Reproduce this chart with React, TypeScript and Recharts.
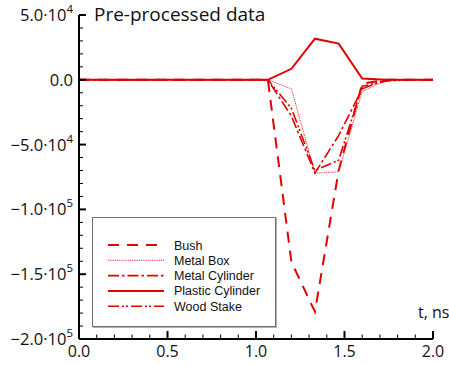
import React from 'react';
import { LineChart, Line, XAxis, YAxis } from 'recharts';

const times = [0, 0.133, 0.267, 0.4, 0.533, 0.667, 0.8, 0.933, 1.067, 1.2, 1.333, 1.467, 1.6, 1.733, 1.867, 2.0];
const bush = [0, 0, 0, 0, 0, 0, 0, 0, 0, -140500, -179000, -70000, -3000, 0, 0, 0];
const metalBox = [0, 0, 0, 0, 0, 0, 0, 0, 0, -7000, -72000, -71000, -9000, -500, 0, 0];
const metalCylinder = [0, 0, 0, 0, 0, 0, 0, 0, 0, -28000, -72000, -43000, -7000, 0, 0, 0];
const plasticCylinder = [0, 0, 0, 0, 0, 0, 0, 0, 0, 8500, 31700, 27900, 1000, 0, 0, 0];
const woodStake = [0, 0, 0, 0, 0, 0, 0, 0, 0, -22000, -70000, -62000, -5000, -1000, 0, 0];

const seriesNames = ['Bush', 'Metal Box', 'Metal Cylinder', 'Plastic Cylinder', 'Wood Stake'];
const seriesKeys = ['bush', 'metalBox', 'metalCylinder', 'plasticCylinder', 'woodStake'];

const xTicks = [0, 0.1, 0.2, 0.3, 0.4, 0.5, 0.6, 0.7, 0.8, 0.9, 1.0, 1.1, 1.2, 1.3, 1.4, 1.5, 1.6, 1.7, 1.8, 1.9, 2.0];
const xMajorTicks = [0, 0.5, 1.0, 1.5, 2.0];
const yTicks = [-200000, -190000, -180000, -170000, -160000, -150000, -140000, -130000, -120000, -110000, -100000, -90000, -80000, -70000, -60000, -50000, -40000, -30000, -20000, -10000, 0, 10000, 20000, 30000, 40000, 50000];
const yMajorTicks = [-200000, -150000, -100000, -50000, 0, 50000];

const title = 'Pre-processed data';
const xTitle = 't, ns';

const RED = '#e00000';

const styles: Record<string, { dash?: string; width: number; color: string }> = {
  bush: { dash: '11 8', width: 2, color: RED },
  metalBox: { dash: '1.2 1', width: 1, color: '#e83030' },
  metalCylinder: { dash: '11 3 2.5 3', width: 1.6, color: RED },
  plasticCylinder: { width: 2, color: RED },
  woodStake: { dash: '11 3 2 2 2 3', width: 1.6, color: RED },
};

const data = times.map((t, i) => ({
  t,
  bush: bush[i],
  metalBox: metalBox[i],
  metalCylinder: metalCylinder[i],
  plasticCylinder: plasticCylinder[i],
  woodStake: woodStake[i],
}));

const FONT = '"Open Sans", "DejaVu Sans", sans-serif';

const XTick = (props: any) => {
  const { x, y, payload } = props;
  const v = payload.value;
  const major = xMajorTicks.some((m) => Math.abs(m - v) < 1e-6);
  return (
    <g>
      <line x1={x} x2={x} y1={y} y2={y - (major ? 8 : 4.5)} stroke="#000" strokeWidth={major ? 2 : 1} />
      {major && (
        <text x={x} y={y + 18} textAnchor="middle" fontFamily={FONT} fontSize={16} fill="#111">
          {v.toFixed(1)}
        </text>
      )}
    </g>
  );
};

const YTick = (props: any) => {
  const { x, y, payload } = props;
  const v = payload.value;
  const major = yMajorTicks.includes(v);
  let label: React.ReactNode = null;
  if (major) {
    if (v === 0) {
      label = '0.0';
    } else {
      const exp = Math.floor(Math.log10(Math.abs(v)));
      const mant = Math.abs(v) / Math.pow(10, exp);
      label = (
        <>
          <tspan>{(v < 0 ? '\u2212' : '') + mant.toFixed(1) + '\u00B710'}</tspan>
          <tspan fontSize={11.5} dy={-8}>{String(exp)}</tspan>
        </>
      );
    }
  }
  return (
    <g>
      <line x1={x} x2={x + (major ? 7 : 4)} y1={y} y2={y} stroke="#000" strokeWidth={major ? 2 : 1} />
      {major && (
        <text x={x - 6} y={y} dy={6} textAnchor="end" fontFamily={FONT} fontSize={16.5} fill="#111">
          {label}
        </text>
      )}
    </g>
  );
};

const LegendBox = () => (
  <div
    style={{
      position: 'absolute',
      left: 92,
      top: 217,
      width: 182,
      height: 108,
      border: '1px solid #707070',
      boxShadow: '1px 1px 0 #b0b0b0',
      background: '#fff',
    }}
  >
    <svg width={182} height={108} style={{ display: 'block' }}>
      {seriesKeys.map((k, i) => {
        const s = styles[k];
        const yy = 27 + i * 15.3;
        return (
          <g key={k}>
            <line x1={15} x2={71} y1={yy} y2={yy} stroke={s.color} strokeWidth={s.width} strokeDasharray={s.dash} />
            <text x={81} y={yy + 4.5} fontFamily='"Liberation Sans", Arial, sans-serif' fontSize={12.5} fill="#111">
              {seriesNames[i]}
            </text>
          </g>
        );
      })}
    </svg>
  </div>
);

export default function App() {
  return (
    <div style={{ position: 'absolute', left: 0, top: 0, width: 449, height: 365, background: '#fff', overflow: 'hidden' }}>
      <LineChart width={449} height={365} data={data} margin={{ top: 15, right: 16, left: 0, bottom: 0 }}>
        <XAxis
          dataKey="t"
          type="number"
          domain={[0, 2]}
          ticks={xTicks}
          interval={0}
          tick={<XTick />}
          tickLine={false}
          tickSize={0}
          tickMargin={0}
          height={26}
          axisLine={{ stroke: '#000', strokeWidth: 2 }}
          allowDataOverflow
        />
        <YAxis
          type="number"
          domain={[-200000, 50000]}
          ticks={yTicks}
          interval={0}
          tick={<YTick />}
          tickLine={false}
          tickSize={0}
          tickMargin={0}
          width={79}
          axisLine={{ stroke: '#000', strokeWidth: 2 }}
          allowDataOverflow
        />
        {seriesKeys.map((k, i) => (
          <Line
            key={k}
            type="linear"
            dataKey={k}
            name={seriesNames[i]}
            stroke={styles[k].color}
            strokeWidth={styles[k].width}
            strokeDasharray={styles[k].dash}
            dot={false}
            activeDot={false}
            isAnimationActive={false}
          />
        ))}
      </LineChart>
      <div
        style={{
          position: 'absolute',
          left: 94,
          top: 2,
          fontFamily: FONT,
          fontSize: 19,
          color: '#111',
          whiteSpace: 'nowrap',
          lineHeight: '24px',
        }}
      >
        {title}
      </div>
      <div
        style={{
          position: 'absolute',
          left: 418,
          top: 301,
          fontFamily: FONT,
          fontSize: 16,
          color: '#111',
          whiteSpace: 'nowrap',
          lineHeight: '22px',
        }}
      >
        {xTitle}
      </div>
      <LegendBox />
    </div>
  );
}
